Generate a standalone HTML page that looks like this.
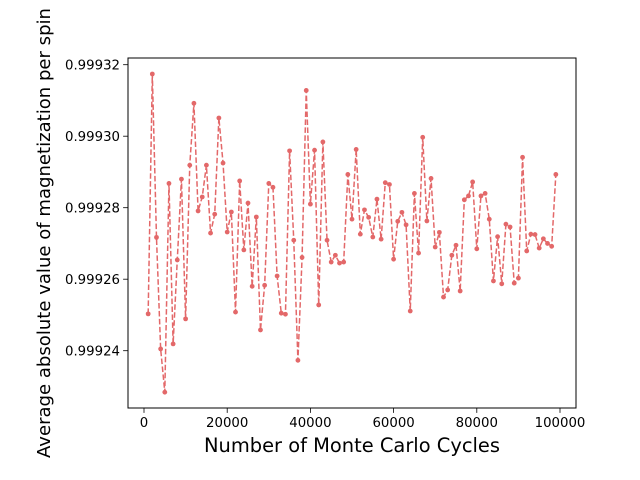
<!DOCTYPE html>
<html><head><meta charset="utf-8"><style>
html,body{margin:0;padding:0;background:#fff;}
svg{display:block;font-family:"DejaVu Sans","Liberation Sans",sans-serif;}
</style></head><body>
<svg id="chart" width="640" height="480" viewBox="0 0 640 480" xmlns="http://www.w3.org/2000/svg"></svg>
<script>
const xTicks = [0, 20000, 40000, 60000, 80000, 100000];
const yTicks = [0.99924, 0.99926, 0.99928, 0.99930, 0.99932];
const yTickLabels = ["0.99924", "0.99926", "0.99928", "0.99930", "0.99932"];
const cycles = [];
for (let i = 1; i <= 99; i++) cycles.push(i * 1000);
const magnetization = [
0.9992503,0.9993174,0.9992717,0.9992405,0.9992284,0.9992868,0.9992419,0.9992654,0.9992880,0.9992489,
0.9992919,0.9993092,0.9992791,0.9992830,0.9992919,0.9992729,0.9992782,0.9993051,0.9992925,0.9992732,
0.9992788,0.9992508,0.9992875,0.9992682,0.9992813,0.9992580,0.9992774,0.9992458,0.9992583,0.9992868,
0.9992857,0.9992609,0.9992505,0.9992502,0.9992959,0.9992709,0.9992373,0.9992661,0.9993128,0.9992810,
0.9992961,0.9992528,0.9992984,0.9992709,0.9992648,0.9992667,0.9992645,0.9992648,0.9992893,0.9992768,
0.9992963,0.9992726,0.9992794,0.9992773,0.9992718,0.9992824,0.9992712,0.9992870,0.9992865,0.9992656,
0.9992762,0.9992787,0.9992752,0.9992511,0.9992840,0.9992673,0.9992997,0.9992763,0.9992882,0.9992690,
0.9992731,0.9992550,0.9992570,0.9992667,0.9992695,0.9992567,0.9992822,0.9992833,0.9992872,0.9992685,
0.9992833,0.9992840,0.9992768,0.9992595,0.9992719,0.9992587,0.9992754,0.9992746,0.9992589,0.9992603,
0.9992941,0.9992679,0.9992726,0.9992725,0.9992687,0.9992713,0.9992700,0.9992692,0.9992893
];
const NS = "http://www.w3.org/2000/svg";
const svg = document.getElementById('chart');
const L = 128, R = 576, T = 58, B = 408;
function xs(v){ return 144 + (v - 0) * (416 / 100000); }
function ys(v){ return 64.7 + (0.99932 - v) * (71.5 / 0.00002); }
function mk(tag, attrs){ const e = document.createElementNS(NS, tag); for (const k in attrs) e.setAttribute(k, attrs[k]); return e; }

let d = "";
cycles.forEach((c,i)=>{ d += (i ? "L" : "M") + xs(c).toFixed(2) + "," + ys(magnetization[i]).toFixed(2); });
const line = mk('path', {d: d, fill: 'none', stroke: '#e36869', 'stroke-width': 1.5, 'stroke-dasharray': '5.55,2.4'});


svg.appendChild(line);
cycles.forEach((c,i)=>{
  const p = mk('circle', {cx: xs(c), cy: ys(magnetization[i]), r: 2.4, fill: '#e36869'});
  
  
  svg.appendChild(p);
});

const frame = mk('rect', {x: L, y: T, width: R - L, height: B - T, fill: 'none', stroke: '#000', 'stroke-width': 1});


svg.appendChild(frame);

xTicks.forEach(t=>{
  const x = xs(t);
  const tk = mk('line', {x1: x, x2: x, y1: B, y2: B + 4.9, stroke: '#000', 'stroke-width': 0.8});
  
  
  svg.appendChild(tk);
  const tx = mk('text', {x: x, y: B + 19, 'text-anchor': 'middle', 'font-size': 13.3, fill: '#000'});
  tx.textContent = String(t);
  
  
  svg.appendChild(tx);
});
yTicks.forEach((t,i)=>{
  const y = ys(t);
  const tk = mk('line', {x1: L - 4.9, x2: L, y1: y, y2: y, stroke: '#000', 'stroke-width': 0.8});
  
  
  svg.appendChild(tk);
  const tx = mk('text', {x: L - 8, y: y + 4.8, 'text-anchor': 'end', 'font-size': 13.3, fill: '#000'});
  tx.textContent = yTickLabels[i];
  
  
  svg.appendChild(tx);
});
const xt = mk('text', {x: 352, y: 452, 'text-anchor': 'middle', 'font-size': 19.4, fill: '#000', textLength: 296, lengthAdjust: 'spacingAndGlyphs'});
xt.textContent = 'Number of Monte Carlo Cycles';


svg.appendChild(xt);
const yt = mk('text', {x: 0, y: 0, 'text-anchor': 'middle', 'font-size': 18, fill: '#000', textLength: 450, lengthAdjust: 'spacingAndGlyphs', transform: 'translate(50,233) rotate(-90)'});
yt.textContent = 'Average absolute value of magnetization per spin';


svg.appendChild(yt);
</script>
</body></html>
